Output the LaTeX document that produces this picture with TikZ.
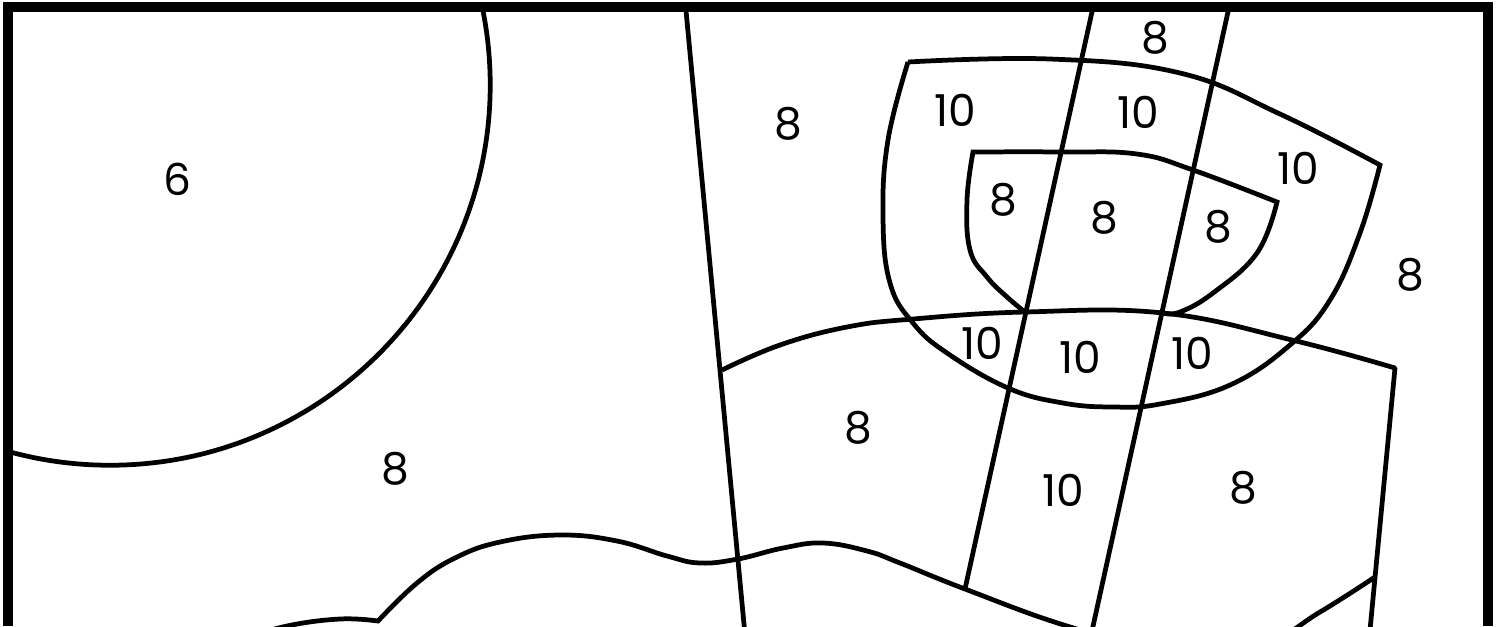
\documentclass[tikz,border=0pt]{standalone}
\usepackage{fontspec}
\setmainfont{Poppins}
\begin{document}
\begin{tikzpicture}[x=0.01cm,y=-0.01cm,
    ligne/.style={line width=1.35pt, line join=round},
    lisse/.style={smooth, tension=0.7},
    cadre/.style={line width=3.1pt},
    chiffre/.style={font=\fontsize{12.5}{14}\selectfont, inner sep=0pt}]
    \useasboundingbox (0,0) rectangle (1499,626);

    \begin{scope}
        \clip (8,7) rectangle (1488,626);
        % Cercle en haut a gauche
        \draw[ligne] (110,85) circle[radius=3.8cm];

        % Droite oblique
        \draw[ligne] (685,0) -- (745.5,640);

        % Bande oblique
        \draw[ligne] (1094.6,0) -- (965,589);
        \draw[ligne] (1230.6,0) -- (1090,640);

        % Courbe du milieu et cote droit
        \draw[ligne] plot[lisse] coordinates {(722,370) (780,345) (847,327) (913,319) (1025,312) (1163,313) (1292,340) (1395,368)}
            -- (1370,630);

        % Grande coupe
        \draw[ligne, line join=miter] plot[lisse] coordinates {(908,62) (1050,59) (1180,73) (1280,114) (1380,165)}
            -- plot[lisse] coordinates {(1380,165) (1360,233) (1330,300) (1290,345) (1230,385) (1160,404) (1113,407) (1063,403) (1008,388) (947,353) (913,323) (890,283) (883,217) (888,140) (908,62)};

        % Petite coupe
        \draw[ligne, line join=miter] plot[lisse] coordinates {(1025,312) (1007,297) (987,277) (970,250) (967,200) (973,152)}
            -- plot[lisse] coordinates {(973,152) (1062,152) (1137,154) (1193,170) (1277,202)}
            -- plot[lisse] coordinates {(1277,202) (1257,253) (1213,293) (1180,312) (1163,313)};

        % Courbe ondulee du bas
        \draw[ligne, line join=miter] plot[lisse] coordinates {(240,640) (287,626) (340,619) (378,621)}
            -- plot[lisse] coordinates {(378,621) (417,583) (455,558) (500,542) (560,535) (617,541) (667,556) (700,563) (738,559) (783,548) (823,543) (867,551) (900,563) (965,589) (1067,626) (1170,652) (1260,645) (1320,612) (1375,577)};
    \end{scope}

    % Cadre
    \draw[cadre] (8,626) -- (8,7) -- (1488,7) -- (1488,626);

    % Valeurs
    \node[chiffre] (v6) at (177,179) {6};
    \node[chiffre] (vgauche) at (395,469) {8};
    \node[chiffre] (vhaut) at (788,124) {8};
    \node[chiffre] (vmilieu) at (858,428) {8};
    \node[chiffre] (vbande) at (1063,490) {10};
    \node[chiffre] (vbas) at (1243,488) {8};
    \node[chiffre] (vdroite) at (1410,275) {8};
    \node[chiffre] (vsommet) at (1155,38) {8};
    \node[chiffre] (ga) at (955,110) {10};
    \node[chiffre] (gb) at (1138,112) {10};
    \node[chiffre] (gc) at (1298,168) {10};
    \node[chiffre] (pa) at (1003,200) {8};
    \node[chiffre] (pb) at (1104,218) {8};
    \node[chiffre] (pc) at (1218,227) {8};
    \node[chiffre] (fa) at (982,343) {10};
    \node[chiffre] (fb) at (1080,357) {10};
    \node[chiffre] (fc) at (1192,353) {10};
\end{tikzpicture}
\end{document}
